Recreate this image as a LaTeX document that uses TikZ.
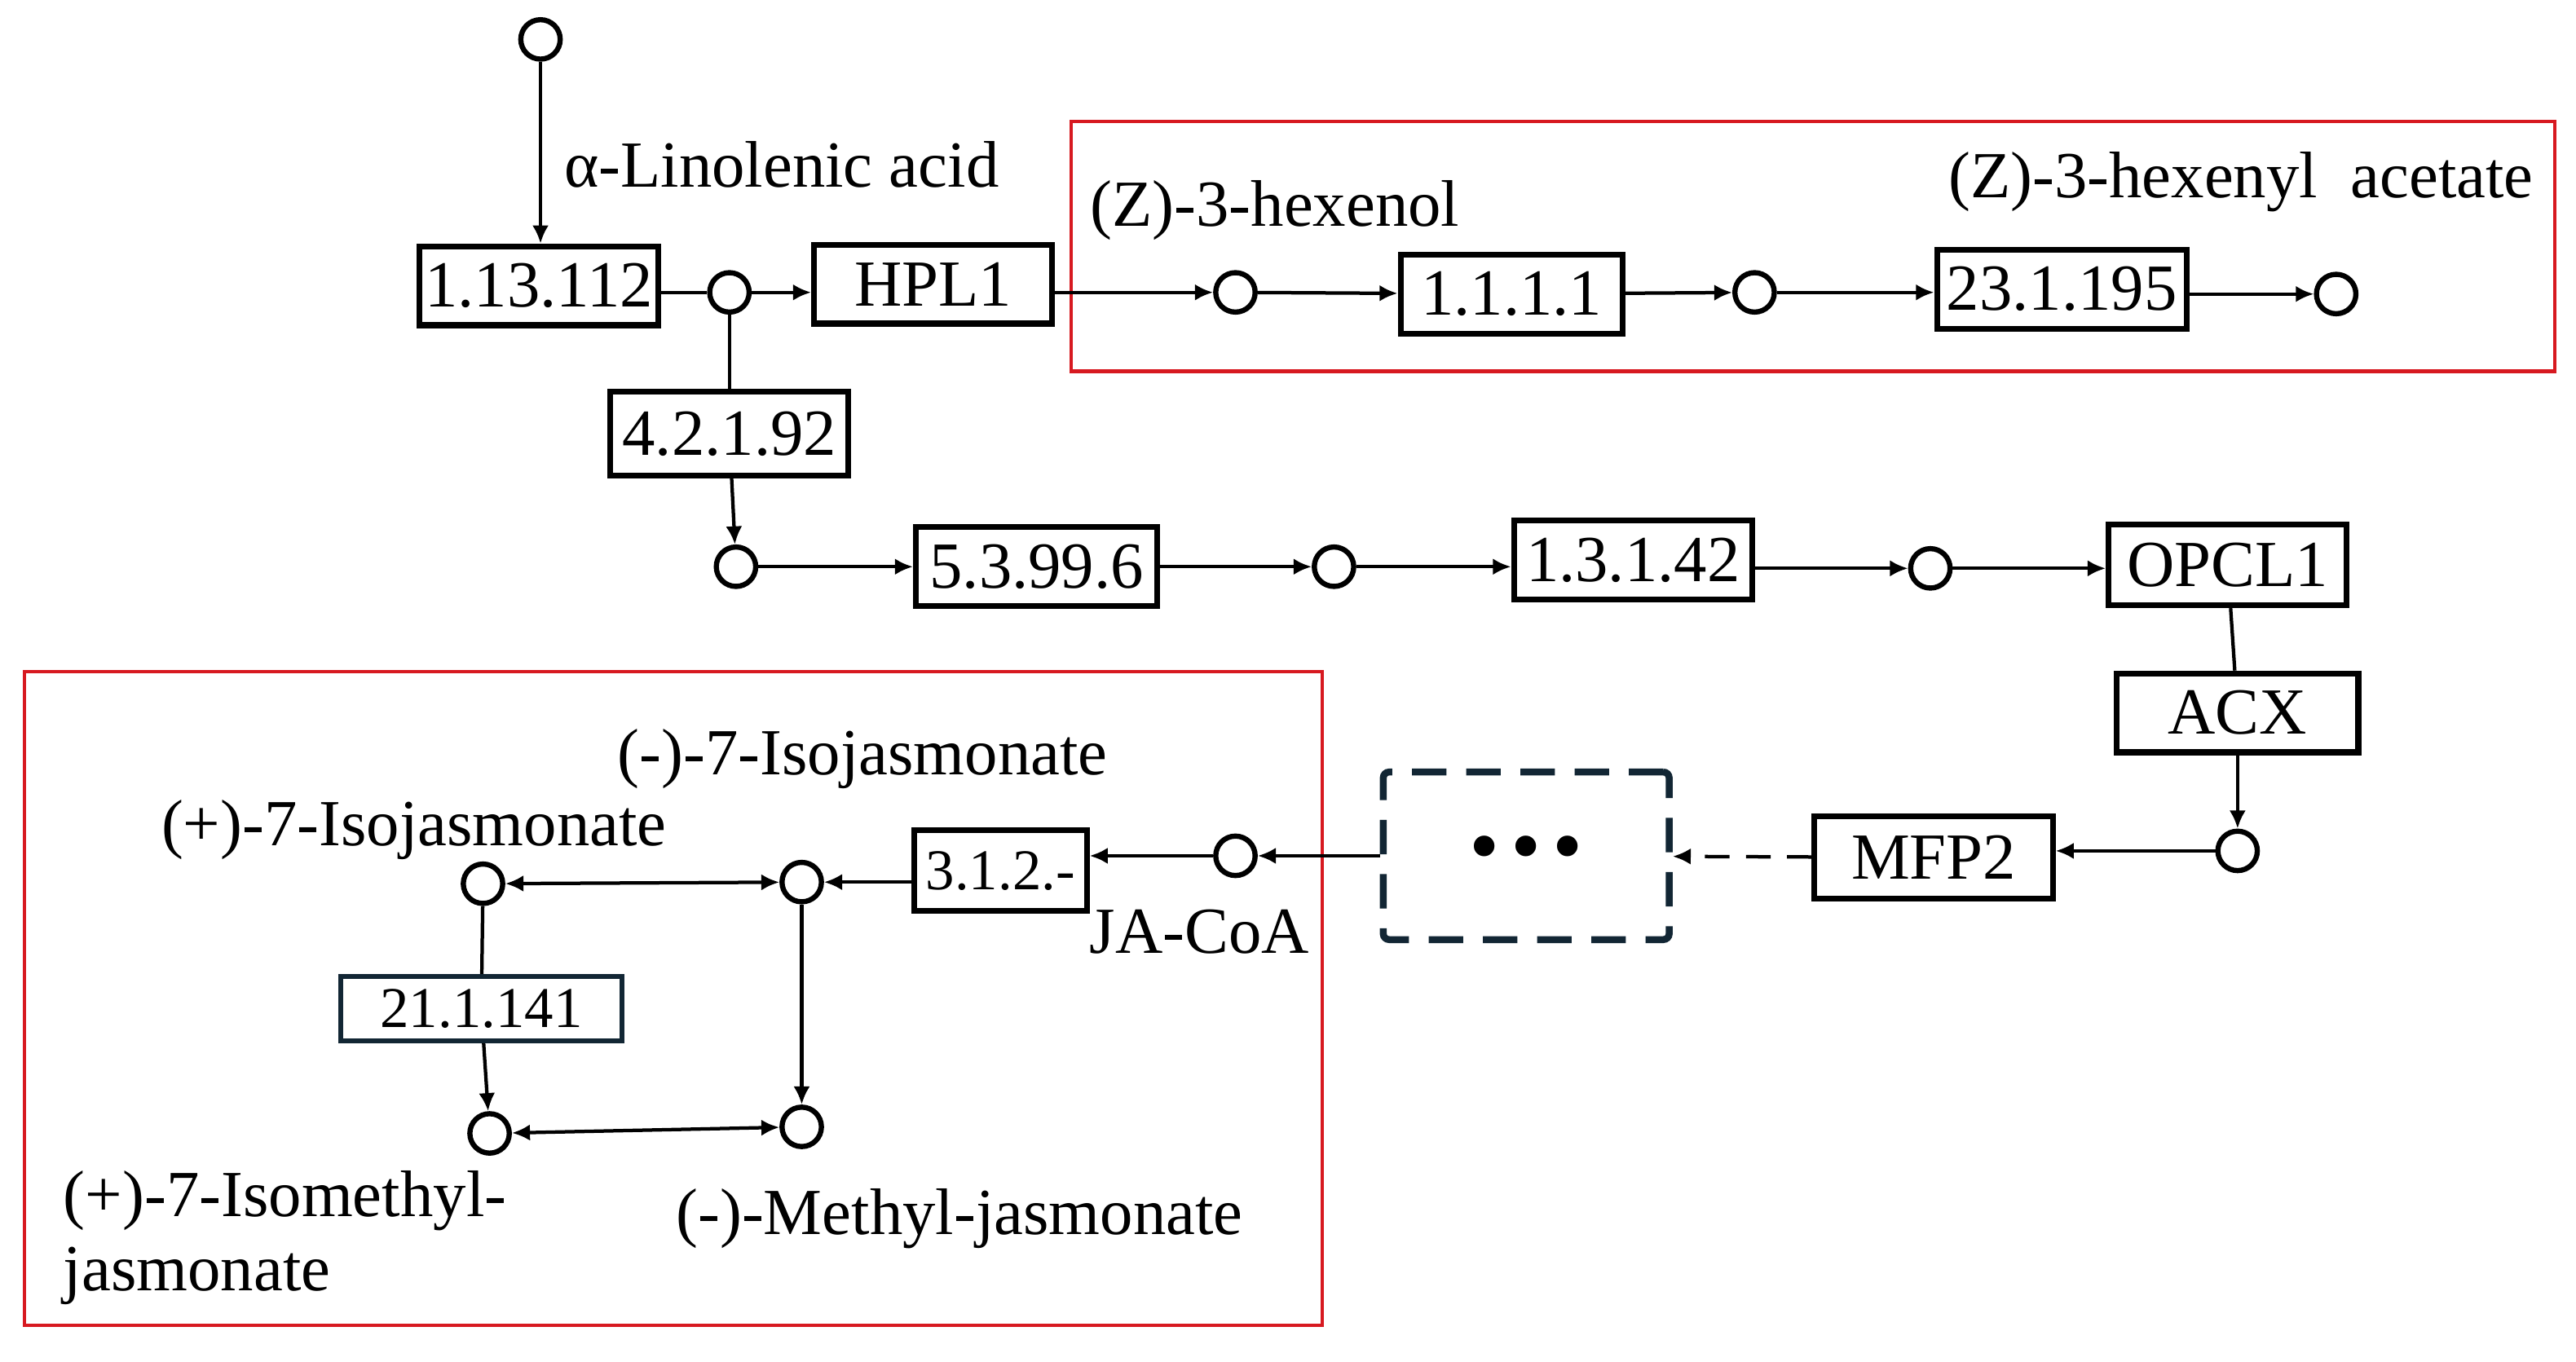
\documentclass[tikz,border=0pt]{standalone}
\usepackage{fontspec}
\setmainfont{Liberation Serif}
\usetikzlibrary{arrows.meta}
\definecolor{boxred}{RGB}{215,25,32}
\definecolor{navy}{RGB}{18,38,52}

\begin{document}
\begin{tikzpicture}[x=1cm,y=-1cm,
    font=\fontsize{11.4}{12.8}\selectfont,
    met/.style={draw,circle,line width=0.9pt,minimum size=0.24cm,inner sep=0pt},
    enz/.style={draw,rectangle,line width=1pt,minimum width=1.45cm,minimum height=0.48cm,inner sep=0pt},
    arr/.style={-{Latex[length=1.1mm,width=1mm]},line width=0.6pt},
    darr/.style={{Latex[length=1.1mm,width=1mm]}-{Latex[length=1.1mm,width=1mm]},line width=0.6pt},
    redbox/.style={draw=boxred,line width=0.6pt}]
    \useasboundingbox (0,0) rectangle (15.68,8.29);

    % red frames
    \draw[redbox] (6.52,0.74) rectangle (15.55,2.26);
    \draw[redbox] (0.15,4.09) rectangle (8.05,8.07);

    % metabolites
    \node[met] (c0) at (3.29,0.24) {};
    \node[met] (c1) at (4.44,1.78) {};
    \node[met] (c2) at (4.48,3.45) {};
    \node[met] (c3) at (8.12,3.45) {};
    \node[met] (c4) at (11.75,3.46) {};
    \node[met] (c5) at (13.62,5.18) {};
    \node[met] (c6) at (7.52,5.21) {};
    \node[met] (c7) at (4.88,5.37) {};
    \node[met] (c8) at (2.94,5.38) {};
    \node[met] (c9) at (2.98,6.90) {};
    \node[met] (c10) at (4.88,6.86) {};
    \node[met] (c11) at (7.52,1.78) {};
    \node[met] (c12) at (10.68,1.78) {};
    \node[met] (c13) at (14.22,1.79) {};

    % enzymes
    \node[enz] (lox) at (3.28,1.74) {1.13.112};
    \node[enz] (hpl) at (5.68,1.73) {HPL1};
    \node[enz,minimum height=0.51cm] (aos) at (4.44,2.64) {4.2.1.92};
    \node[enz,minimum width=1.47cm] (aoc) at (6.31,3.45) {5.3.99.6};
    \node[enz] (opr) at (9.94,3.41) {1.3.1.42};
    \node[enz,minimum height=0.49cm] (opcl) at (13.56,3.44) {OPCL1};
    \node[enz,minimum width=1.47cm] (acx) at (13.62,4.34) {ACX};
    \node[enz,minimum height=0.5cm] (mfp) at (11.77,5.22) {MFP2};
    \node[enz,minimum width=1.35cm] (adh) at (9.20,1.79) {1.1.1.1};
    \node[enz,minimum width=1.52cm] (chat) at (12.55,1.76) {23.1.195};
    \node[enz,minimum width=1.05cm,minimum height=0.49cm,font=\fontsize{10}{12}\selectfont] (tes) at (6.09,5.30) {3.1.2.-};
    \node[enz,draw=navy,line width=0.9pt,minimum width=1.71cm,minimum height=0.39cm,font=\fontsize{10}{12}\selectfont] (jmt) at (2.93,6.14) {21.1.141};
    \node[draw=navy,line width=1.2pt,dash pattern=on 0.21cm off 0.12cm,rounded corners=1pt,
        minimum width=1.74cm,minimum height=1.02cm,font=\fontsize{15}{15}\selectfont] (more) at (9.29,5.21) {\raisebox{-1pt}{•\hspace{2pt}•\hspace{2pt}•}};

    % labels
    \node[anchor=west] (lin) at (3.31,1.00) {α-Linolenic acid};
    \node (hexenol) at (7.76,1.28) {(Z)-3-hexenol};
    \node (hexacet) at (13.64,1.11) {(Z)-3-hexenyl\ \ acetate};
    \node (mjiso) at (5.25,4.62) {(-)-7-Isojasmonate};
    \node (pjiso) at (2.52,5.05) {(+)-7-Isojasmonate};
    \node (jacoa) at (7.30,5.67) {JA-CoA};
    \node[anchor=north west,align=left,inner sep=0pt] (pmeja) at (0.38,7.12) {(+)-7-Isomethyl-\\jasmonate};
    \node (mmeja) at (5.84,7.42) {(-)-Methyl-jasmonate};

    % reactions
    \draw[arr] (c0) -- (c0 |- lox.north);
    \draw[line width=0.6pt] (lox.east |- c1) -- (c1);
    \draw[arr] (c1) -- (c1 -| hpl.west);
    \draw[line width=0.6pt] (c1) -- (aos);
    \draw[arr] (aos) -- (c2);
    \draw[arr] (c2) -- (aoc);
    \draw[arr] (aoc) -- (c3);
    \draw[arr] (c3) -- (c3 -| opr.west);
    \draw[arr] (opr.east |- c4) -- (c4);
    \draw[arr] (c4) -- (c4 -| opcl.west);
    \draw[line width=0.6pt] (opcl) -- (acx);
    \draw[arr] (acx) -- (c5);
    \draw[arr] (c5) -- (c5 -| mfp.east);
    \draw[arr,dash pattern=on 0.15cm off 0.1cm] (mfp) -- (more);
    \draw[arr] (more) -- (c6);
    \draw[arr] (c6) -- (c6 -| tes.east);
    \draw[arr] (tes.west |- c7) -- (c7);
    \draw[darr] (c8) -- (c7);
    \draw[line width=0.6pt] (c8) -- (jmt);
    \draw[arr] (jmt) -- (c9);
    \draw[arr] (c7) -- (c10);
    \draw[darr] (c9) -- (c10);
    \draw[arr] (hpl.east |- c11) -- (c11);
    \draw[arr] (c11) -- (adh);
    \draw[arr] (adh) -- (c12);
    \draw[arr] (c12) -- (c12 -| chat.west);
    \draw[arr] (chat.east |- c13) -- (c13);
\end{tikzpicture}
\end{document}
